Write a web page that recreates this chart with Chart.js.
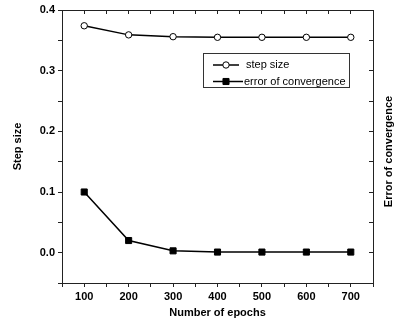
<!DOCTYPE html>
<html>
<head>
<meta charset="utf-8">
<script src="https://cdn.jsdelivr.net/npm/chart.js@4/dist/chart.umd.min.js"></script>
<style>
  html, body { margin: 0; padding: 0; background: #fff; }
  #wrap { width: 397px; height: 323px; position: relative; }
</style>
</head>
<body>
<div id="wrap"><canvas id="c" width="397" height="323"></canvas></div>
<script>
const epochs = [100, 200, 300, 400, 500, 600, 700];
const stepSize = [0.374, 0.359, 0.356, 0.355, 0.355, 0.355, 0.355];
const convergenceError = [0.100, 0.020, 0.003, 0.001, 0.001, 0.001, 0.001];
const seriesNames = ['step size', 'error of convergence'];
const xTitle = 'Number of epochs';
const yTitle = 'Step size';
const y2Title = 'Error of convergence';

const FONT = "'Liberation Sans', Arial, sans-serif";
const AXIS = '#222';

const toPts = (ys) => epochs.map((x, i) => ({ x: x, y: ys[i] }));

const rightTitle = {
  id: 'rightTitle',
  afterDraw(chart) {
    const ctx = chart.ctx;
    const s = chart.scales.y2;
    ctx.save();
    ctx.font = 'bold 11px ' + FONT;
    ctx.fillStyle = '#000';
    ctx.textAlign = 'center';
    ctx.textBaseline = 'middle';
    ctx.translate(s.right - 8, (s.top + s.bottom) / 2 + 5);
    ctx.rotate(-Math.PI / 2);
    ctx.fillText(y2Title, 0, 0);
    ctx.restore();
  }
};

const boxLegend = {
  id: 'boxLegend',
  afterDraw(chart) {
    const ctx = chart.ctx;
    const bx = 203.5, by = 53.5, bw = 146, bh = 34;
    ctx.save();
    ctx.strokeStyle = '#333';
    ctx.lineWidth = 1;
    ctx.strokeRect(bx, by, bw, bh);
    ctx.font = '11px ' + FONT;
    ctx.textBaseline = 'middle';
    const rows = [
      { y: 65, x1: 213, x2: 239, tx: 246 },
      { y: 81.5, x1: 213, x2: 243, tx: 244 }
    ];
    chart.data.datasets.forEach((ds, i) => {
      const r = rows[i];
      ctx.strokeStyle = ds.borderColor;
      ctx.lineWidth = 1.5;
      ctx.beginPath();
      ctx.moveTo(r.x1, r.y); ctx.lineTo(r.x2, r.y);
      ctx.stroke();
      ctx.fillStyle = ds.pointBackgroundColor;
      ctx.strokeStyle = ds.pointBorderColor;
      ctx.lineWidth = ds.pointBorderWidth;
      ctx.beginPath();
      if (ds.pointStyle === 'circle') {
        ctx.arc(226, r.y, ds.pointRadius, 0, Math.PI * 2);
      } else {
        const h = ds.pointRadius * Math.SQRT1_2;
        ctx.rect(226 - h, r.y - h, 2 * h, 2 * h);
      }
      ctx.fill(); ctx.stroke();
      ctx.fillStyle = '#000';
      ctx.fillText(seriesNames[i], r.tx, r.y);
    });
    ctx.restore();
  }
};

const yTickCb = (v) => {
  const k = Math.round(v * 100);
  return (k % 10 === 0 && k >= 0) ? (k / 100).toFixed(1) : '';
};
const xTickCb = (v) => (v % 100 === 0 && v >= 100 && v <= 700) ? String(v) : '';

new Chart(document.getElementById('c'), {
  type: 'line',
  data: {
    datasets: [
      {
        label: seriesNames[0],
        data: toPts(stepSize),
        xAxisID: 'x', yAxisID: 'y',
        borderColor: '#000', borderWidth: 1.5,
        pointStyle: 'circle', pointRadius: 3.2,
        pointBackgroundColor: '#fff', pointBorderColor: '#000', pointBorderWidth: 1,
        tension: 0
      },
      {
        label: seriesNames[1],
        data: toPts(convergenceError),
        xAxisID: 'x', yAxisID: 'y2',
        borderColor: '#000', borderWidth: 1.5,
        pointStyle: 'rect', pointRadius: 4.3,
        pointBackgroundColor: '#000', pointBorderColor: '#000', pointBorderWidth: 1,
        tension: 0
      }
    ]
  },
  options: {
    responsive: false,
    animation: false,
    devicePixelRatio: 1,
    layout: { padding: 0 },
    plugins: { legend: { display: false }, tooltip: { enabled: false } },
    scales: {
      x: {
        type: 'linear', position: 'bottom', min: 50, max: 750,
        afterFit: (s) => { s.height = 40; },
        ticks: { stepSize: 50, autoSkip: false, maxRotation: 0, padding: 3, callback: xTickCb,
          color: '#000', font: { family: FONT, size: 11, weight: 'bold' } },
        grid: { drawOnChartArea: false, drawTicks: true, tickLength: 4, tickColor: AXIS },
        border: { display: true, color: AXIS, width: 1 },
        title: { display: true, text: xTitle, color: '#000', padding: { top: 0, bottom: 3 },
          font: { family: FONT, size: 11, weight: 'bold' } }
      },
      x2: {
        type: 'linear', position: 'top', min: 50, max: 750,
        afterFit: (s) => { s.height = 10; },
        ticks: { stepSize: 50, display: false },
        grid: { drawOnChartArea: false, drawTicks: true, tickLength: -4, tickColor: AXIS },
        border: { display: true, color: AXIS, width: 1 }
      },
      y: {
        type: 'linear', position: 'left', min: -0.05, max: 0.4,
        afterFit: (s) => { s.width = 62; },
        ticks: { stepSize: 0.05, autoSkip: false, padding: 3, callback: yTickCb,
          color: '#000', font: { family: FONT, size: 11, weight: 'bold' } },
        grid: { drawOnChartArea: false, drawTicks: true, tickLength: 4, tickColor: AXIS },
        border: { display: true, color: AXIS, width: 1 },
        title: { display: true, text: yTitle, color: '#000', padding: { top: 11, bottom: 0 },
          font: { family: FONT, size: 11, weight: 'bold' } }
      },
      y2: {
        type: 'linear', position: 'right', min: -0.05, max: 0.4,
        afterFit: (s) => { s.width = 24; },
        ticks: { stepSize: 0.05, display: false },
        grid: { drawOnChartArea: false, drawTicks: true, tickLength: -4, tickColor: AXIS },
        border: { display: true, color: AXIS, width: 1 }
      }
    }
  },
  plugins: [rightTitle, boxLegend]
});
</script>
</body>
</html>
